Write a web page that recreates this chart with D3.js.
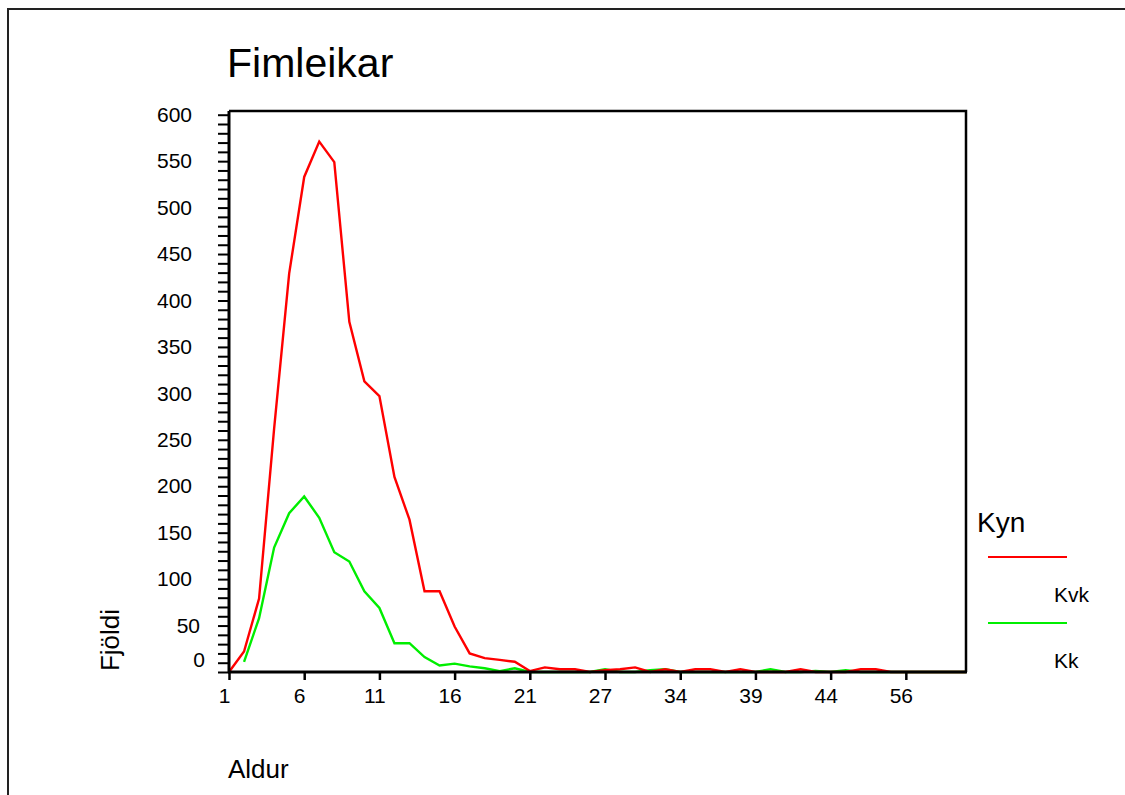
<!DOCTYPE html>
<html>
<head>
<meta charset="utf-8">
<script src="https://cdn.jsdelivr.net/npm/d3@7"></script>
<style>
  html, body { margin: 0; padding: 0; background: #fff; }
  svg { display: block; font-family: "Liberation Sans", Arial, sans-serif; }
</style>
</head>
<body>
<svg id="chart" width="1125" height="795"></svg>
<script>
// ---- data ----
const ages = [1,2,3,4,5,6,7,8,9,10,11,12,13,14,15,16,17,18,19,20,
              21,22,23,24,25,27,28,29,30,31,34,35,36,37,38,39,40,41,42,43,
              44,46,48,50,52,56,58,60,62,65];
const kvk = [0,22,79,262,429,533,571,549,377,313,297,210,164,87,87,49,20,15,13,11,
             1,5,3,3,0,2,3,5,0,3,0,3,3,0,3,0,0,0,3,0,
             0,0,3,3,0,0,0,0,0,0];
const kk  = [null,11,58,134,171,189,166,129,119,87,69,31,31,16,7,9,6,4,1,4,
             0,0,0,0,0,3,0,0,2,3,0,0,0,0,0,0,3,0,0,1,
             0,2,0,0,0,0,0,0,0,0];
const xTickLabels = [1,6,11,16,21,27,34,39,44,56];
const yTicks = d3.range(0, 601, 10);
const yLabels = d3.range(0, 601, 50);
const seriesNames = ["Kvk", "Kk"];
const seriesColors = ["#ff0000", "#00ee00"];
const title = "Fimleikar";
const xTitle = "Aldur";
const yTitle = "Fjöldi";
const legendTitle = "Kyn";

// ---- layout ----
const svg = d3.select("#chart");
const L = 229, R = 966, T = 111, B = 672;

// outer frame
svg.append("rect").attr("x", 8).attr("y", 9).attr("width", 1130).attr("height", 800)
  .attr("fill", "none").attr("stroke", "#222").attr("stroke-width", 2);

const x = d3.scalePoint().domain(ages).range([L, R]);
const y = d3.scaleLinear().domain([0, 604]).range([B, T]);

// lines (green drawn first, red on top)
const line = d3.line()
  .defined(d => d.v !== null)
  .x(d => x(d.a)).y(d => y(d.v));
[1, 0].forEach(i => {
  const vals = i === 0 ? kvk : kk;
  const data = ages.map((a, j) => ({a, v: vals[j]}));
  svg.append("path").datum(data)
    .attr("fill", "none").attr("stroke", seriesColors[i])
    .attr("stroke-width", 2.4).attr("stroke-linejoin", "miter")
    .attr("d", line);
});

// plot frame top/right
svg.append("path").attr("d", `M${L},${T}H${R}V${B}`)
  .attr("fill", "none").attr("stroke", "#000").attr("stroke-width", 2.5);

// y axis
const yAxis = d3.axisLeft(y).tickValues(yTicks).tickSize(11)
  .tickFormat(d => yLabels.includes(d) ? d : "");
const gy = svg.append("g").attr("transform", `translate(${L},0)`).call(yAxis);
gy.select(".domain").attr("stroke", "#000").attr("stroke-width", 3)
  .attr("d", `M0,${T}V${B + 1}`);
gy.selectAll(".tick line").attr("stroke", "#000").attr("stroke-width", 2);
gy.selectAll(".tick text").attr("font-size", 21).attr("fill", "#000")
  .attr("font-family", "Liberation Sans, Arial, sans-serif")
  .attr("x", -37);
// zero label nudged up to avoid x axis (as in original)
gy.selectAll(".tick").filter(d => d === 0).select("text")
  .attr("dy", "-0.25em").attr("x", -24);
gy.selectAll(".tick").filter(d => d === 50).select("text").attr("x", -29);

// x axis
const xAxis = d3.axisBottom(x).tickValues(xTickLabels).tickSize(8).tickPadding(8);
const gx = svg.append("g").attr("transform", `translate(0,${B})`).call(xAxis);
gx.select(".domain").attr("stroke", "#000").attr("stroke-width", 3)
  .attr("d", `M${L - 1},0H${R + 1}`);
gx.selectAll(".tick line").attr("stroke", "#000").attr("stroke-width", 2.5);
gx.selectAll(".tick text").attr("font-size", 21).attr("fill", "#000")
  .attr("font-family", "Liberation Sans, Arial, sans-serif")
  .attr("dx", -5);

// titles
svg.append("text").attr("x", 227).attr("y", 77).attr("font-size", 41)
  .text(title);
svg.append("text").attr("x", 228).attr("y", 778).attr("font-size", 26)
  .text(xTitle);
svg.append("text").attr("transform", "translate(119,640) rotate(-90)")
  .attr("text-anchor", "middle").attr("font-size", 26).text(yTitle);

// legend
svg.append("text").attr("x", 977).attr("y", 532).attr("font-size", 28).text(legendTitle);
seriesNames.forEach((n, i) => {
  const ly = 557 + i * 66;
  svg.append("line").attr("x1", 988).attr("x2", 1067).attr("y1", ly).attr("y2", ly)
    .attr("stroke", seriesColors[i]).attr("stroke-width", 2);
  svg.append("text").attr("x", 1054).attr("y", ly + 45).attr("font-size", 21).text(n);
});
</script>
</body>
</html>
